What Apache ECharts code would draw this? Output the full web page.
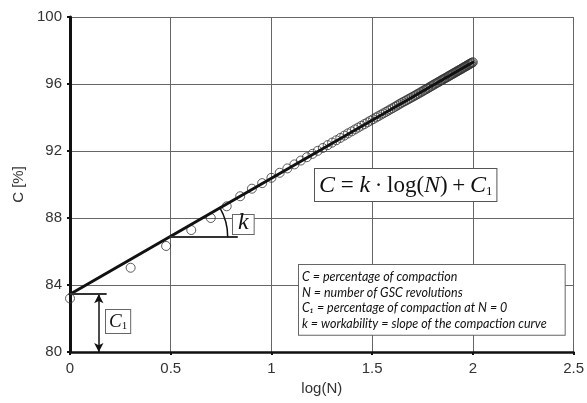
<!DOCTYPE html>
<html>
<head>
<meta charset="utf-8">
<script src="https://cdn.jsdelivr.net/npm/echarts@6/dist/echarts.min.js"></script>
<style>
  html, body { margin: 0; background: #fff; }
  #chart { width: 587px; height: 403px; }
</style>
</head>
<body>
<div id="chart"></div>
<script>
// log(N) for N = 1..100 GSC revolutions
const logN = [
  0, 0.301, 0.477, 0.602, 0.699, 0.778, 0.845, 0.903, 0.954, 1.000,
  1.041, 1.079, 1.114, 1.146, 1.176, 1.204, 1.230, 1.255, 1.279, 1.301,
  1.322, 1.342, 1.362, 1.380, 1.398, 1.415, 1.431, 1.447, 1.462, 1.477,
  1.491, 1.505, 1.519, 1.531, 1.544, 1.556, 1.568, 1.580, 1.591, 1.602,
  1.613, 1.623, 1.633, 1.643, 1.653, 1.663, 1.672, 1.681, 1.690, 1.699,
  1.708, 1.716, 1.724, 1.732, 1.740, 1.748, 1.756, 1.763, 1.771, 1.778,
  1.785, 1.792, 1.799, 1.806, 1.813, 1.820, 1.826, 1.833, 1.839, 1.845,
  1.851, 1.857, 1.863, 1.869, 1.875, 1.881, 1.886, 1.892, 1.898, 1.903,
  1.908, 1.914, 1.919, 1.924, 1.929, 1.934, 1.940, 1.944, 1.949, 1.954,
  1.959, 1.964, 1.968, 1.973, 1.978, 1.982, 1.987, 1.991, 1.996, 2.000
]
// measured compaction C [%]
const compaction = [
  83.20, 85.03, 86.33, 87.28, 88.00, 88.70, 89.30, 89.75, 90.08, 90.40,
  90.70, 90.96, 91.20, 91.43, 91.63, 91.83, 92.01, 92.18, 92.35, 92.50,
  92.64, 92.78, 92.92, 93.05, 93.17, 93.29, 93.40, 93.51, 93.61, 93.71,
  93.81, 93.90, 94.00, 94.08, 94.17, 94.25, 94.33, 94.41, 94.49, 94.56,
  94.64, 94.71, 94.78, 94.85, 94.92, 94.98, 95.04, 95.10, 95.16, 95.22,
  95.28, 95.33, 95.39, 95.44, 95.50, 95.55, 95.61, 95.66, 95.71, 95.76,
  95.81, 95.86, 95.91, 95.96, 96.01, 96.05, 96.10, 96.14, 96.19, 96.23,
  96.27, 96.31, 96.35, 96.39, 96.43, 96.48, 96.51, 96.55, 96.59, 96.63,
  96.66, 96.70, 96.74, 96.77, 96.81, 96.84, 96.88, 96.91, 96.95, 96.98,
  97.02, 97.05, 97.08, 97.11, 97.15, 97.18, 97.21, 97.24, 97.27, 97.30
]
// fitted line C = k*log(N) + C1
const fitX = [0, 2]
const fitY = [83.45, 97.3]

const xTicks = { min: 0, max: 2.5, interval: 0.5 }
const yTicks = { min: 80, max: 100, interval: 4 }

const sans = "Liberation Sans, Arial, sans-serif"
const serif = "Liberation Serif, Times New Roman, serif"

const chart = echarts.init(document.getElementById("chart"))

chart.setOption({
  animation: false,
  backgroundColor: "#fff",
  grid: { left: 70, right: 11, top: 17, bottom: 51 },
  xAxis: {
    type: "value",
    ...xTicks,
    name: "log(N)",
    nameLocation: "middle",
    nameGap: 28,
    nameTextStyle: { color: "#333", fontFamily: sans, fontSize: 15 },
    axisLine: { lineStyle: { color: "#111", width: 2.5 } },
    axisTick: { show: true, length: 3, lineStyle: { color: "#111", width: 2 } },
    axisLabel: { color: "#333", fontFamily: sans, fontSize: 15, margin: 9 },
    splitLine: { lineStyle: { color: "#666", width: 1 } },
  },
  yAxis: {
    type: "value",
    ...yTicks,
    name: "C [%]",
    nameLocation: "middle",
    nameGap: 43,
    nameTextStyle: { color: "#333", fontFamily: sans, fontSize: 15 },
    axisLine: { lineStyle: { color: "#111", width: 3 } },
    axisTick: { show: true, length: 3, lineStyle: { color: "#111", width: 2 } },
    axisLabel: { color: "#333", fontFamily: sans, fontSize: 15, margin: 8 },
    splitLine: { lineStyle: { color: "#666", width: 1 } },
  },
  series: [
    {
      type: "scatter",
      data: logN.map((x, i) => [x, compaction[i]]),
      symbol: "circle",
      symbolSize: 9,
      itemStyle: { color: "rgba(0,0,0,0)", borderColor: "#333", borderWidth: 1 },
      z: 2,
      markLine: {
        silent: true,
        symbol: ["arrow", "arrow"],
        symbolSize: [7, 9],
        label: { show: false },
        lineStyle: { color: "#111", width: 1.5, type: "solid" },
        data: [[{ coord: [0.143, fitY[0]] }, { coord: [0.143, 80] }]],
      },
    },
    {
      type: "line",
      data: fitX.map((x, i) => [x, fitY[i]]),
      symbol: "none",
      lineStyle: { color: "#111", width: 3, cap: "round" },
      z: 3,
      markLine: {
        silent: true,
        symbol: "none",
        label: { show: false },
        lineStyle: { color: "#333", width: 2, type: "solid" },
        data: [
          [{ coord: [0, fitY[0]] }, { coord: [0.182, fitY[0]] }],
          [{ coord: [0.495, 86.88] }, { coord: [0.833, 86.88] }],
        ],
      },
    },
  ],
})

// annotations: k angle arc, labels and the explanation boxes
const arcC = chart.convertToPixel({ gridIndex: 0 }, [0.495, 86.88])
const p0 = chart.convertToPixel({ gridIndex: 0 }, [fitX[0], fitY[0]])
const p1 = chart.convertToPixel({ gridIndex: 0 }, [fitX[1], fitY[1]])
const slopeAngle = Math.atan2(p1[1] - p0[1], p1[0] - p0[0])

chart.setOption({
  graphic: [
    {
      type: "arc",
      shape: { cx: arcC[0], cy: arcC[1], r: 58, startAngle: slopeAngle, endAngle: 0, clockwise: true },
      style: { stroke: "#111", lineWidth: 1.5, fill: null },
      z: 10,
    },
    {
      type: "text",
      left: 232,
      top: 211,
      z: 10,
      style: {
        text: "k",
        font: "italic 24px " + serif,
        fill: "#111",
        backgroundColor: "#fff",
        borderColor: "#666",
        borderWidth: 1,
        padding: [-4, 5, -1, 5],
      },
    },
    {
      type: "text",
      left: 105,
      top: 309,
      z: 10,
      style: {
        text: "{i|C}{s|1}",
        fill: "#111",
        backgroundColor: "#fff",
        borderColor: "#666",
        borderWidth: 1,
        padding: [2, 3, 1, 3],
        rich: {
          i: { fontFamily: serif, fontStyle: "italic", fontSize: 19, fill: "#111" },
          s: { fontFamily: serif, fontSize: 11, fill: "#111", padding: [9, 0, 0, 0] },
        },
      },
    },
    {
      type: "text",
      left: 314,
      top: 168,
      z: 10,
      style: {
        text: "{i|C} = {i|k}\u2009·\u2009log({i|N})\u2009+\u2009{i|C}{s|1}",
        fill: "#111",
        backgroundColor: "#fff",
        borderColor: "#555",
        borderWidth: 1,
        padding: [4, 4, 3, 4],
        font: "23px " + serif,
        rich: {
          i: { fontFamily: serif, fontStyle: "italic", fontSize: 24, fill: "#111" },
          s: { fontFamily: serif, fontSize: 13, fill: "#111", padding: [12, 0, 0, 0] },
        },
      },
    },
    {
      type: "text",
      left: 298,
      top: 264,
      z: 10,
      style: {
        text: [
          "C = percentage of compaction",
          "N = number of GSC revolutions",
          "C₁ = percentage of compaction at N = 0",
          "k = workability = slope of the compaction curve",
        ].join("\n"),
        font: "italic 12.5px Lato, sans-serif",
        lineHeight: 15.7,
        fill: "#111",
        backgroundColor: "#fff",
        borderColor: "#666",
        borderWidth: 1,
        padding: [4, 18, 3, 3],
      },
    },
  ],
})
</script>
</body>
</html>
